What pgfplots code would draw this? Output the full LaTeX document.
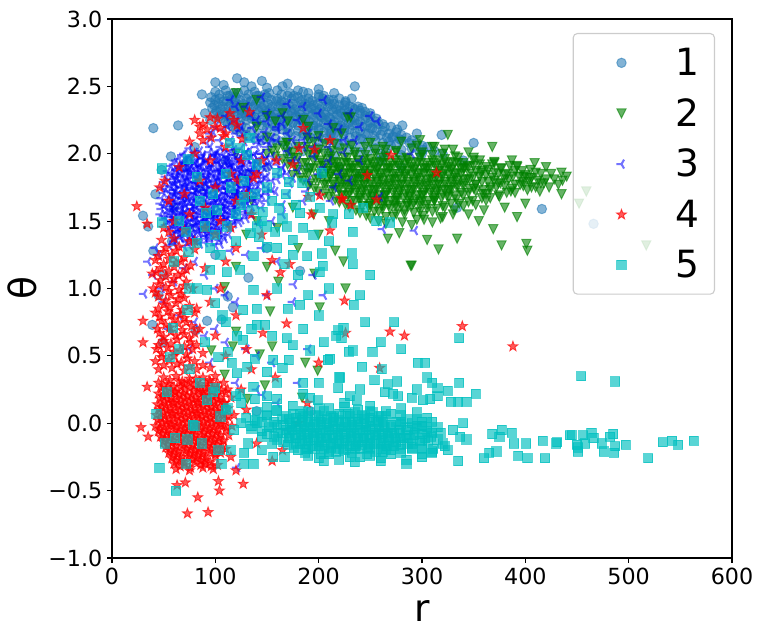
\documentclass[border=0pt]{standalone}
\usepackage{fontspec}
\setmainfont{DejaVu Sans}
\usepackage{pgfplots}
\pgfplotsset{compat=1.18}
\usetikzlibrary{calc}
\definecolor{c1}{HTML}{1F77B4}
\definecolor{c2}{HTML}{008000}
\definecolor{c3}{HTML}{0000FF}
\definecolor{c4}{HTML}{FF0000}
\definecolor{c5}{HTML}{00BFBF}
\pgfdeclareplotmark{fstar}{%
  \pgfpathmoveto{\pgfpointpolar{90}{\pgfplotmarksize}}%
  \pgfpathlineto{\pgfpointpolar{126}{0.4\pgfplotmarksize}}%
  \pgfpathlineto{\pgfpointpolar{162}{\pgfplotmarksize}}%
  \pgfpathlineto{\pgfpointpolar{198}{0.4\pgfplotmarksize}}%
  \pgfpathlineto{\pgfpointpolar{234}{\pgfplotmarksize}}%
  \pgfpathlineto{\pgfpointpolar{270}{0.4\pgfplotmarksize}}%
  \pgfpathlineto{\pgfpointpolar{306}{\pgfplotmarksize}}%
  \pgfpathlineto{\pgfpointpolar{342}{0.4\pgfplotmarksize}}%
  \pgfpathlineto{\pgfpointpolar{18}{\pgfplotmarksize}}%
  \pgfpathlineto{\pgfpointpolar{54}{0.4\pgfplotmarksize}}%
  \pgfpathclose
  \pgfusepathqfillstroke}
\pgfdeclareplotmark{vtri}{%
  \pgfpathmoveto{\pgfqpoint{0pt}{-\pgfplotmarksize}}%
  \pgfpathlineto{\pgfqpoint{-\pgfplotmarksize}{\pgfplotmarksize}}%
  \pgfpathlineto{\pgfqpoint{\pgfplotmarksize}{\pgfplotmarksize}}%
  \pgfpathclose
  \pgfusepathqfillstroke}
\pgfdeclareplotmark{trileft}{%
  \pgfpathmoveto{\pgfpointorigin}\pgfpathlineto{\pgfpointpolar{180}{\pgfplotmarksize}}%
  \pgfpathmoveto{\pgfpointorigin}\pgfpathlineto{\pgfpointpolar{60}{\pgfplotmarksize}}%
  \pgfpathmoveto{\pgfpointorigin}\pgfpathlineto{\pgfpointpolar{-60}{\pgfplotmarksize}}%
  \pgfusepathqstroke}
\begin{document}
\begin{tikzpicture}
\begin{axis}[
  scale only axis, width=446.4pt, height=388.08pt,
  xmin=0, xmax=600, ymin=-1, ymax=3,
  xtick={0,100,200,300,400,500,600},
  xticklabels={0,100,200,300,400,500,600},
  ytick={-1,-0.5,0,0.5,1,1.5,2,2.5,3},
  yticklabels={−1.0,−0.5,0.0,0.5,1.0,1.5,2.0,2.5,3.0},
  tick label style={font=\fontsize{16}{19}\selectfont},
  xlabel={r}, ylabel={θ},
  label style={font=\fontsize{27}{32}\selectfont},
  xlabel style={at={(axis description cs:0.5,-0.1187)}, anchor=base},
  ylabel style={at={(axis description cs:-0.1225,0.5)}, anchor=base, rotate=0},
  tick align=outside, xtick pos=bottom, ytick pos=left,
  major tick length=3.5pt,
  every tick/.style={black, line width=0.8pt},
  axis line style={line width=0.8pt},
  clip=true,
  legend cell align=left,
  legend image code/.code={\path (-10pt,0pt) (34pt,0pt); \draw[sharp corners,#1] plot coordinates {(22pt,0pt)};},
  legend style={at={(axis description cs:1,1)}, anchor=north east, xshift=-12.24pt, yshift=-10.08pt,
    draw=black!20, line width=0.8pt, rounded corners=3pt, fill=white, fill opacity=0.8, draw opacity=1, text opacity=1,
    font=\fontsize{27}{32}\selectfont, inner xsep=2pt, inner ysep=3pt, column sep=17pt,
    nodes={inner ysep=7.5pt, inner xsep=9pt}},
]
% ---------------- series 1 ----------------
\addplot[only marks, mark=*, color=c1, opacity=0.55, mark size=3.4pt, line width=0.7pt] coordinates {
(108,2.51)(121,2.56)(128,2.53)(135,2.50)(150,2.49)(165,2.50)(180,2.47)(100,2.53)(87,2.44)(235,2.50)(232,2.41)(226,2.38)(233,2.34)(281,2.21)(295,2.15)(319,2.14)(301,2.03)(271,2.12)(416,1.59)(466,1.48)(350,2.08)(200,2.48)(215,2.45)(170,2.52)(145,2.54)
(40,2.19)(64,2.21)(57,1.98)(73,1.95)(48,1.88)(42,1.70)(30,1.54)(35,1.46)(40,1.28)(58,1.35)(39,0.73)(49,0.60)(81,0.69)(92,0.76)(112,0.94)(117,0.86)(132,1.08)(182,1.13)(140,0.09)(192,0.09)(106,0.77)(50,1.1)(45,0.95)(80,2.05)(90,2.3)(95,2.25)
(100,2.46)(110,2.47)(118,2.45)(128,2.47)(138,2.46)(148,2.44)(160,2.47)(172,2.45)(185,2.46)(200,2.44)
(104,2.44)(114,2.43)(122,2.45)(132,2.44)(142,2.43)(152,2.45)(164,2.44)(176,2.43)(190,2.45)(205,2.43)
(96,2.42)(104,2.41)(112,2.43)(120,2.42)(130,2.41)(140,2.43)(150,2.42)(160,2.41)(170,2.43)(180,2.42)(190,2.41)(200,2.42)(210,2.40)(220,2.41)
(100,2.40)(108,2.39)(116,2.41)(124,2.40)(134,2.39)(144,2.41)(154,2.40)(164,2.39)(174,2.41)(184,2.40)(194,2.39)(204,2.41)(214,2.40)(226,2.39)
(95,2.38)(103,2.37)(111,2.39)(119,2.38)(127,2.37)(135,2.39)(143,2.38)(151,2.37)(159,2.39)(167,2.38)(175,2.37)(183,2.39)(191,2.38)(199,2.37)(207,2.39)(215,2.37)(225,2.36)(238,2.35)
(99,2.36)(107,2.35)(115,2.37)(123,2.36)(131,2.35)(139,2.37)(147,2.36)(155,2.35)(163,2.37)(171,2.36)(179,2.35)(187,2.37)(195,2.36)(203,2.35)(211,2.37)(220,2.36)(230,2.35)(242,2.34)
(97,2.34)(105,2.33)(113,2.35)(121,2.34)(129,2.33)(137,2.35)(145,2.34)(153,2.33)(161,2.35)(169,2.34)(177,2.33)(185,2.35)(193,2.34)(201,2.33)(209,2.35)(217,2.33)(225,2.32)(235,2.33)(245,2.31)
(101,2.32)(109,2.31)(117,2.33)(125,2.32)(133,2.31)(141,2.33)(149,2.32)(157,2.31)(165,2.33)(173,2.32)(181,2.31)(189,2.33)(197,2.32)(205,2.31)(213,2.33)(221,2.32)(229,2.31)(240,2.32)(250,2.30)
(100,2.30)(110,2.29)(118,2.31)(126,2.30)(134,2.29)(142,2.31)(150,2.30)(158,2.29)(166,2.31)(174,2.30)(182,2.29)(190,2.31)(198,2.30)(206,2.29)(214,2.31)(222,2.30)(230,2.29)(240,2.30)(250,2.28)
(104,2.28)(114,2.27)(122,2.29)(130,2.28)(138,2.27)(146,2.29)(154,2.28)(162,2.27)(170,2.29)(178,2.28)(186,2.27)(194,2.29)(202,2.28)(210,2.27)(218,2.29)(226,2.28)(235,2.27)(245,2.28)(256,2.26)
(105,2.26)(115,2.25)(125,2.27)(135,2.26)(145,2.25)(155,2.27)(163,2.26)(171,2.25)(179,2.27)(187,2.26)(195,2.25)(203,2.27)(211,2.26)(219,2.25)(227,2.27)(235,2.25)(245,2.26)(255,2.24)
(110,2.24)(120,2.23)(130,2.25)(140,2.24)(150,2.23)(159,2.25)(167,2.24)(175,2.23)(183,2.25)(191,2.24)(199,2.23)(207,2.25)(215,2.24)(223,2.23)(231,2.25)(240,2.24)(250,2.23)(262,2.22)
(112,2.22)(125,2.21)(140,2.23)(155,2.22)(165,2.21)(175,2.23)(185,2.22)(195,2.21)(205,2.23)(213,2.22)(221,2.21)(229,2.23)(237,2.22)(247,2.21)(258,2.22)(270,2.20)
(117,2.20)(130,2.19)(145,2.21)(158,2.20)(170,2.19)(180,2.21)(190,2.20)(200,2.19)(209,2.21)(217,2.20)(225,2.19)(233,2.21)(242,2.20)(252,2.19)(264,2.20)(276,2.18)
(120,2.18)(135,2.17)(150,2.19)(165,2.18)(180,2.17)(190,2.19)(200,2.18)(210,2.17)(220,2.19)(230,2.18)(240,2.17)(250,2.19)(262,2.17)(275,2.16)
(125,2.16)(142,2.15)(158,2.17)(172,2.16)(185,2.15)(195,2.17)(205,2.16)(215,2.15)(225,2.17)(235,2.16)(245,2.15)(256,2.17)(268,2.15)(280,2.14)
(130,2.14)(150,2.13)(170,2.15)(185,2.14)(200,2.13)(212,2.15)(224,2.14)(236,2.13)(248,2.15)(260,2.14)(272,2.13)(285,2.12)
(138,2.12)(158,2.11)(178,2.13)(192,2.12)(206,2.11)(218,2.13)(230,2.12)(242,2.11)(254,2.13)(266,2.12)(278,2.11)(290,2.10)
(145,2.10)(165,2.09)(190,2.11)(210,2.10)(225,2.09)(240,2.11)(255,2.10)(268,2.09)(280,2.10)(295,2.08)
(155,2.08)(178,2.07)(200,2.09)(218,2.08)(232,2.07)(248,2.09)(262,2.08)(275,2.07)(288,2.08)(300,2.06)
(170,2.05)(200,2.04)(220,2.06)(240,2.05)(255,2.04)(270,2.06)(290,2.04)(305,2.05)
(185,2.02)(210,2.01)(230,2.03)(248,2.02)(265,2.01)(280,2.03)(298,2.01)(312,2.02)
(195,2.00)(215,1.99)(240,2.01)(260,2.00)(280,1.99)(300,2.00)
(70,1.9)(85,1.75)(110,1.95)(130,1.85)(150,1.9)(170,2.0)(190,1.9)(220,1.9)(240,1.85)(260,1.95)(280,1.9)(320,2.0)(340,1.95)(334,1.6)(60,1.6)(75,1.45)(95,1.55)(120,1.7)(100,1.25)(150,1.3)(212,2.17)
};
\addlegendentry{1}
% ---------------- series 2 ----------------
\addplot[only marks, mark=vtri, color=c2, opacity=0.6, mark size=3.3pt, line width=0.7pt] coordinates {
(170,2.08)(195,2.09)(215,2.07)(250,2.08)(280,2.09)
(165,2.06)(188,2.05)(206,2.07)(232,2.06)(262,2.05)(295,2.06)
(160,2.04)(180,2.05)(200,2.03)(225,2.04)(245,2.05)(265,2.03)(290,2.04)(310,2.05)
(155,2.02)(175,2.01)(192,2.03)(212,2.02)(235,2.01)(255,2.03)(275,2.02)(300,2.01)(322,2.03)
(150,2.00)(170,2.01)(190,1.99)(205,2.00)(220,2.01)(235,1.99)(255,2.00)(275,2.01)(300,1.99)(320,2.00)(345,2.01)
(158,1.98)(176,1.97)(198,1.99)(212,1.98)(228,1.97)(245,1.99)(265,1.98)(285,1.97)(310,1.99)(332,1.98)(350,1.97)
(165,1.96)(180,1.97)(195,1.95)(210,1.96)(225,1.97)(238,1.95)(250,1.96)(262,1.97)(274,1.95)(286,1.96)(298,1.97)(310,1.95)(322,1.96)(335,1.97)(350,1.95)
(172,1.94)(188,1.93)(202,1.95)(218,1.94)(231,1.93)(244,1.95)(256,1.94)(268,1.93)(280,1.95)(292,1.94)(304,1.93)(316,1.95)(328,1.94)(340,1.93)(356,1.95)(370,1.94)
(170,1.92)(185,1.93)(200,1.91)(212,1.92)(224,1.93)(236,1.91)(248,1.92)(260,1.93)(272,1.91)(284,1.92)(296,1.93)(308,1.91)(320,1.92)(332,1.93)(344,1.91)(356,1.92)(370,1.93)(385,1.91)
(177,1.90)(192,1.89)(206,1.91)(218,1.90)(230,1.89)(242,1.91)(254,1.90)(266,1.89)(278,1.91)(290,1.90)(302,1.89)(314,1.91)(326,1.90)(338,1.89)(350,1.91)(362,1.90)(377,1.89)(392,1.91)
(180,1.88)(195,1.89)(208,1.87)(220,1.88)(232,1.89)(244,1.87)(256,1.88)(268,1.89)(280,1.87)(292,1.88)(304,1.89)(316,1.87)(328,1.88)(340,1.89)(352,1.87)(364,1.88)(376,1.89)(390,1.87)(405,1.88)
(187,1.86)(201,1.85)(214,1.87)(226,1.86)(238,1.85)(250,1.87)(262,1.86)(274,1.85)(286,1.87)(298,1.86)(310,1.85)(322,1.87)(334,1.86)(346,1.85)(358,1.87)(370,1.86)(383,1.85)(397,1.87)(410,1.86)
(175,1.84)(190,1.85)(205,1.83)(218,1.84)(230,1.85)(242,1.83)(254,1.84)(266,1.85)(278,1.83)(290,1.84)(302,1.85)(314,1.83)(326,1.84)(338,1.85)(350,1.83)(362,1.84)(374,1.85)(388,1.83)(400,1.84)(415,1.85)
(182,1.82)(197,1.81)(211,1.83)(224,1.82)(236,1.81)(248,1.83)(260,1.82)(272,1.81)(284,1.83)(296,1.82)(308,1.81)(320,1.83)(332,1.82)(344,1.81)(356,1.83)(368,1.82)(380,1.81)(394,1.83)(406,1.82)(420,1.81)
(185,1.80)(200,1.81)(214,1.79)(226,1.80)(238,1.81)(250,1.79)(262,1.80)(274,1.81)(286,1.79)(298,1.80)(310,1.81)(322,1.79)(334,1.80)(346,1.81)(358,1.79)(370,1.80)(384,1.81)(398,1.79)(412,1.80)(428,1.81)
(192,1.78)(207,1.77)(220,1.79)(232,1.78)(244,1.77)(256,1.79)(268,1.78)(280,1.77)(292,1.79)(304,1.78)(316,1.77)(328,1.79)(340,1.78)(352,1.77)(364,1.79)(376,1.78)(390,1.77)(404,1.79)(418,1.78)(432,1.77)
(190,1.76)(205,1.77)(220,1.75)(232,1.76)(244,1.77)(256,1.75)(268,1.76)(280,1.77)(292,1.75)(304,1.76)(316,1.77)(328,1.75)(340,1.76)(352,1.77)(366,1.75)(380,1.76)(395,1.77)(410,1.75)
(196,1.74)(212,1.73)(226,1.75)(238,1.74)(250,1.73)(262,1.75)(274,1.74)(286,1.73)(298,1.75)(310,1.74)(322,1.73)(334,1.75)(346,1.74)(359,1.73)(372,1.75)(387,1.74)(402,1.73)
(200,1.72)(215,1.73)(230,1.71)(242,1.72)(254,1.73)(266,1.71)(278,1.72)(290,1.73)(302,1.71)(314,1.72)(326,1.73)(338,1.71)(352,1.72)(366,1.73)(382,1.71)
(206,1.70)(222,1.69)(236,1.71)(248,1.70)(260,1.69)(272,1.71)(284,1.70)(296,1.69)(308,1.71)(320,1.70)(332,1.69)(345,1.71)(359,1.70)(374,1.69)(390,1.71)
(210,1.68)(225,1.69)(240,1.67)(252,1.68)(264,1.69)(276,1.67)(288,1.68)(300,1.69)(312,1.67)(326,1.68)(340,1.69)(358,1.67)(375,1.68)
(216,1.66)(232,1.65)(246,1.67)(258,1.66)(270,1.65)(282,1.67)(294,1.66)(306,1.65)(319,1.67)(333,1.66)(349,1.65)(366,1.67)
(220,1.64)(235,1.65)(250,1.63)(262,1.64)(274,1.65)(286,1.63)(298,1.64)(312,1.65)(328,1.63)(345,1.64)(362,1.65)
(226,1.62)(242,1.61)(256,1.63)(268,1.62)(280,1.61)(292,1.63)(305,1.62)(320,1.61)(336,1.63)(352,1.62)
(230,1.60)(248,1.61)(262,1.59)(276,1.60)(290,1.61)(305,1.59)(322,1.60)(340,1.61)
(236,1.58)(254,1.57)(269,1.59)(283,1.58)(298,1.57)(314,1.59)(331,1.58)
(240,1.56)(258,1.57)(275,1.55)(292,1.56)(310,1.57)(330,1.55)
(246,1.54)(265,1.53)(283,1.55)(301,1.54)(320,1.53)
(250,1.52)(272,1.53)(295,1.51)(318,1.52)
(258,1.50)(281,1.49)(302,1.51)
(265,1.48)(290,1.47)(310,1.49)
(203,1.93)(215,1.93)(227,1.93)(239,1.93)(251,1.93)(263,1.93)(275,1.93)(287,1.93)(299,1.93)(311,1.93)(323,1.93)(335,1.93)
(209,1.89)(221,1.89)(233,1.89)(245,1.89)(257,1.89)(269,1.89)(281,1.89)(293,1.89)(305,1.89)(317,1.89)(329,1.89)(341,1.89)
(212,1.85)(224,1.85)(236,1.85)(248,1.85)(260,1.85)(272,1.85)(284,1.85)(296,1.85)(308,1.85)(320,1.85)(332,1.85)
(208,1.81)(220,1.81)(232,1.81)(244,1.81)(256,1.81)(268,1.81)(280,1.81)(292,1.81)(304,1.81)(316,1.81)(328,1.81)(340,1.81)
(214,1.77)(226,1.77)(238,1.77)(250,1.77)(262,1.77)(274,1.77)(286,1.77)(298,1.77)(310,1.77)(322,1.77)(334,1.77)
(220,1.73)(232,1.73)(244,1.73)(256,1.73)(268,1.73)(280,1.73)(292,1.73)(304,1.73)(316,1.73)(328,1.73)
(228,1.69)(240,1.69)(252,1.69)(264,1.69)(276,1.69)(288,1.69)(300,1.69)(312,1.69)(324,1.69)
(240,1.65)(252,1.65)(264,1.65)(276,1.65)(288,1.65)(300,1.65)(312,1.65)
(250,1.61)(262,1.61)(274,1.61)(286,1.61)(298,1.61)
(345,1.90)(357,1.86)(368,1.92)(380,1.84)(392,1.90)(404,1.82)(415,1.78)(425,1.85)(350,1.74)(362,1.70)(374,1.78)(386,1.72)(398,1.76)(420,1.90)(440,1.83)
(231,2.27)(325,2.14)(312,2.05)(330,2.03)(368,2.05)(387,1.95)(409,1.93)(435,1.86)(436,1.80)(435,1.70)(423,1.75)(414,1.72)(398,1.83)(406,1.75)(392,1.53)(377,1.32)(401,1.33)(402,1.28)(369,1.44)(334,1.37)(316,1.29)(305,1.36)(290,1.17)(278,1.41)(267,1.37)(224,1.20)(216,1.28)(298,2.10)(459,1.72)(452,1.63)(517,1.32)(400,1.63)
(109,1.01)(120,0.68)(117,0.57)(96,0.54)(143,0.51)(155,0.57)(187,0.45)(199,0.39)(153,0.83)(161,1.05)(201,0.86)(226,1.00)(196,1.11)(150,1.16)(120,1.16)(148,0.28)(131,0.18)(184,0.19)(109,0.36)(289,1.17)
(130,1.4)(140,1.5)(160,1.45)(180,1.3)(200,1.4)(210,1.5)(140,2.4)(165,2.3)(190,2.2)(150,2.12)(120,2.0)(135,1.65)(175,1.6)(195,1.55)(355,1.5)(345,1.55)(380,1.6)(360,1.58)
(120,2.45)(127,2.34)(158,2.24)(170,2.24)(185,2.25)(189,2.12)(200,2.13)(214,2.19)(222,2.15)(228,2.27)(169,2.08)(140,2.2)(150,2.28)
};
\addlegendentry{2}
% ---------------- series 3 ----------------
\addplot[only marks, mark=trileft, color=c3, opacity=0.55, mark size=3.7pt, line width=1.5pt] coordinates {
(75,2.04)(95,2.05)(110,2.03)(125,2.04)(140,2.05)
(85,2.02)(102,2.01)(118,2.03)(133,2.02)
(80,2.01)(100,2.00)(115,2.02)(130,2.01)(145,2.00)
(70,2.00)(82,1.99)(94,2.01)(106,2.00)(118,1.99)(130,2.01)(145,2.00)
(76,1.98)(88,1.97)(100,1.99)(112,1.98)(124,1.97)(138,1.99)
(75,1.97)(87,1.96)(99,1.98)(111,1.97)(123,1.96)(135,1.98)(150,1.97)
(65,1.96)(76,1.95)(87,1.97)(98,1.96)(109,1.95)(120,1.97)(132,1.96)(148,1.95)
(70,1.94)(81,1.93)(92,1.95)(103,1.94)(114,1.93)(126,1.95)(140,1.94)
(70,1.93)(81,1.92)(92,1.94)(103,1.93)(114,1.92)(125,1.94)(137,1.93)(153,1.92)
(60,1.92)(70,1.91)(80,1.93)(90,1.92)(100,1.91)(110,1.93)(120,1.92)(130,1.91)(142,1.93)(160,1.92)
(65,1.90)(75,1.89)(85,1.91)(95,1.90)(105,1.89)(115,1.91)(125,1.90)(136,1.89)(150,1.91)
(65,1.89)(75,1.88)(85,1.90)(95,1.89)(105,1.88)(115,1.90)(125,1.89)(135,1.88)(147,1.90)(165,1.89)
(62,1.88)(72,1.87)(82,1.89)(92,1.88)(102,1.87)(112,1.89)(122,1.88)(134,1.87)
(57,1.86)(67,1.85)(77,1.87)(87,1.86)(97,1.85)(107,1.87)(117,1.86)(128,1.85)(142,1.87)
(62,1.85)(72,1.84)(82,1.86)(92,1.85)(102,1.84)(112,1.86)(122,1.85)(132,1.84)(145,1.86)(170,1.85)
(58,1.84)(68,1.83)(78,1.85)(88,1.84)(98,1.83)(108,1.85)(118,1.84)(128,1.83)(140,1.85)(165,1.84)
(63,1.82)(73,1.81)(83,1.83)(93,1.82)(103,1.81)(113,1.83)(123,1.82)(134,1.81)(150,1.83)
(60,1.81)(70,1.80)(80,1.82)(90,1.81)(100,1.80)(110,1.82)(120,1.81)(130,1.80)(142,1.82)(160,1.81)
(55,1.80)(65,1.79)(75,1.81)(85,1.80)(95,1.79)(105,1.81)(115,1.80)(125,1.79)(137,1.81)(155,1.80)
(60,1.78)(70,1.77)(80,1.79)(90,1.78)(100,1.77)(110,1.79)(120,1.78)(131,1.77)(145,1.79)
(62,1.77)(72,1.76)(82,1.78)(92,1.77)(102,1.76)(112,1.78)(122,1.77)(132,1.76)(145,1.78)
(57,1.76)(67,1.75)(77,1.77)(87,1.76)(97,1.75)(107,1.77)(117,1.76)(127,1.75)(140,1.77)
(52,1.74)(62,1.73)(72,1.75)(82,1.74)(92,1.73)(102,1.75)(112,1.74)(122,1.73)(133,1.75)
(60,1.73)(70,1.72)(80,1.74)(90,1.73)(100,1.72)(110,1.74)(120,1.73)(130,1.72)(140,1.74)(155,1.73)
(55,1.72)(65,1.71)(75,1.73)(85,1.72)(95,1.71)(105,1.73)(115,1.72)(125,1.71)(135,1.73)(150,1.72)
(60,1.70)(70,1.69)(80,1.71)(90,1.70)(100,1.69)(110,1.71)(120,1.70)(130,1.69)(142,1.71)
(63,1.69)(73,1.68)(83,1.70)(93,1.69)(103,1.68)(113,1.70)(123,1.69)(135,1.68)(150,1.70)
(58,1.68)(68,1.67)(78,1.69)(88,1.68)(98,1.67)(108,1.69)(118,1.68)(130,1.67)(145,1.69)
(53,1.66)(63,1.65)(73,1.67)(83,1.66)(93,1.65)(103,1.67)(113,1.66)(124,1.65)(137,1.67)
(60,1.65)(70,1.64)(80,1.66)(90,1.65)(100,1.64)(110,1.66)(120,1.65)(130,1.64)(143,1.66)
(55,1.64)(65,1.63)(75,1.65)(85,1.64)(95,1.63)(105,1.65)(115,1.64)(125,1.63)(138,1.65)
(50,1.62)(60,1.61)(70,1.63)(80,1.62)(90,1.61)(100,1.63)(110,1.62)(120,1.61)(131,1.63)
(57,1.61)(67,1.60)(77,1.62)(87,1.61)(97,1.60)(107,1.62)(117,1.61)(127,1.60)(140,1.62)
(52,1.60)(62,1.59)(72,1.61)(82,1.60)(92,1.59)(102,1.61)(112,1.60)(122,1.59)(135,1.61)
(57,1.58)(67,1.57)(77,1.59)(87,1.58)(97,1.57)(107,1.59)(117,1.58)(128,1.57)
(60,1.57)(70,1.56)(80,1.58)(90,1.57)(100,1.56)(110,1.58)(120,1.57)(133,1.56)
(55,1.56)(65,1.55)(75,1.57)(85,1.56)(95,1.55)(105,1.57)(115,1.56)(128,1.55)
(50,1.54)(60,1.53)(70,1.55)(80,1.54)(90,1.53)(100,1.55)(110,1.54)(120,1.53)
(57,1.53)(67,1.52)(77,1.54)(87,1.53)(97,1.52)(107,1.54)(117,1.53)(130,1.52)
(52,1.52)(62,1.51)(72,1.53)(82,1.52)(92,1.51)(102,1.53)(112,1.52)(125,1.51)
(57,1.50)(67,1.49)(77,1.51)(87,1.50)(97,1.49)(107,1.51)(118,1.50)
(60,1.49)(70,1.48)(80,1.50)(90,1.49)(100,1.48)(110,1.50)(123,1.49)
(55,1.48)(65,1.47)(75,1.49)(85,1.48)(95,1.47)(105,1.49)(118,1.48)
(60,1.46)(70,1.45)(80,1.47)(90,1.46)(100,1.45)(112,1.47)
(63,1.45)(73,1.44)(83,1.46)(93,1.45)(103,1.44)(115,1.46)
(58,1.44)(68,1.43)(78,1.45)(88,1.44)(98,1.43)(110,1.45)
(63,1.42)(73,1.41)(83,1.43)(93,1.42)(104,1.41)
(65,1.41)(77,1.40)(89,1.42)(101,1.41)(113,1.40)
(60,1.40)(72,1.39)(84,1.41)(96,1.40)(108,1.39)
(66,1.38)(78,1.37)(90,1.39)(102,1.38)
(67,1.37)(81,1.36)(95,1.38)(109,1.37)
(62,1.36)(76,1.35)(90,1.37)(104,1.36)
(60,1.33)(75,1.32)(90,1.34)(105,1.33)
(55,1.32)(70,1.31)(85,1.33)(100,1.32)
(68,1.99)(78,1.99)(88,1.99)(98,1.99)(108,1.99)(118,1.99)(128,1.99)(138,1.99)
(62,1.95)(72,1.95)(82,1.95)(92,1.95)(102,1.95)(112,1.95)(122,1.95)(132,1.95)(142,1.95)
(57,1.91)(67,1.91)(77,1.91)(87,1.91)(97,1.91)(107,1.91)(117,1.91)(127,1.91)(137,1.91)
(54,1.87)(64,1.87)(74,1.87)(84,1.87)(94,1.87)(104,1.87)(114,1.87)(124,1.87)(136,1.87)
(52,1.83)(62,1.83)(72,1.83)(82,1.83)(92,1.83)(102,1.83)(112,1.83)(122,1.83)(134,1.83)
(50,1.79)(60,1.79)(70,1.79)(80,1.79)(90,1.79)(100,1.79)(110,1.79)(120,1.79)(132,1.79)
(48,1.75)(58,1.75)(68,1.75)(78,1.75)(88,1.75)(98,1.75)(108,1.75)(118,1.75)(130,1.75)
(50,1.71)(60,1.71)(70,1.71)(80,1.71)(90,1.71)(100,1.71)(110,1.71)(120,1.71)(130,1.71)
(48,1.67)(58,1.67)(68,1.67)(78,1.67)(88,1.67)(98,1.67)(108,1.67)(118,1.67)(128,1.67)
(47,1.63)(57,1.63)(67,1.63)(77,1.63)(87,1.63)(97,1.63)(107,1.63)(117,1.63)(127,1.63)
(48,1.59)(58,1.59)(68,1.59)(78,1.59)(88,1.59)(98,1.59)(108,1.59)(118,1.59)
(47,1.55)(57,1.55)(67,1.55)(77,1.55)(87,1.55)(97,1.55)(107,1.55)(117,1.55)
(50,1.51)(60,1.51)(70,1.51)(80,1.51)(90,1.51)(100,1.51)(110,1.51)
(52,1.47)(62,1.47)(72,1.47)(82,1.47)(92,1.47)(102,1.47)(112,1.47)
(55,1.43)(65,1.43)(75,1.43)(85,1.43)(95,1.43)(105,1.43)
(58,1.39)(68,1.39)(80,1.39)(92,1.39)
(60,1.35)(72,1.35)(84,1.35)(96,1.35)
(135,1.55)(142,1.48)(150,1.65)(158,1.72)(165,1.62)(172,1.78)(180,1.88)(188,1.72)(195,1.98)(160,1.95)(170,2.02)(148,1.82)(138,1.72)(155,1.50)(200,1.85)(210,1.95)(185,2.05)(175,1.95)(165,1.90)(145,2.10)
(92,2.08)(104,2.10)(116,2.07)(128,2.09)(140,2.12)(152,2.08)(98,2.16)(112,2.20)(124,2.17)(136,2.19)(148,2.16)(160,2.18)(120,2.24)(135,2.28)(150,2.24)(165,2.22)
(115,2.10)(128,2.13)(142,2.08)(160,2.10)(170,2.15)(185,2.10)(200,2.12)(210,2.05)(220,2.18)(108,2.18)(95,2.15)
(100,2.20)(110,2.28)(120,2.15)(130,2.35)(140,2.25)(150,2.30)(160,2.20)(170,2.37)(180,2.25)(190,2.15)(200,2.30)(210,2.22)(135,2.10)(155,2.12)(175,2.10)(195,2.05)(225,2.10)(240,2.20)(250,2.28)(150,2.05)(165,2.28)(115,2.40)(145,2.42)(95,2.12)(105,2.05)(257,2.24)(290,2.00)(259,1.68)(262,1.44)(293,1.43)(235,2.10)(224,2.01)(215,1.75)(220,1.85)(230,1.80)(240,1.95)(212,1.65)(140,1.90)(150,1.75)(160,1.85)(170,1.70)(180,1.95)(190,1.80)(200,1.70)(205,1.90)(145,1.60)(165,1.55)(185,1.65)(155,1.98)(175,1.82)(125,2.2)(185,2.35)(205,2.4)(120,2.35)(230,2.3)
(45,1.25)(40,1.10)(48,1.00)(31,0.96)(50,0.90)(60,1.05)(70,1.15)(80,1.20)(90,1.10)(100,1.00)(110,0.95)(120,0.90)(65,0.80)(80,0.75)(90,0.65)(100,0.70)(110,0.60)(130,0.55)(140,0.50)(155,0.45)(75,0.55)(95,0.45)(120,0.30)(140,0.25)(160,0.15)(170,-0.05)(180,0.30)(195,1.10)(205,0.95)(175,0.90)(150,0.95)(160,1.20)(130,1.25)(145,1.30)(115,1.28)(190,0.55)(121,-0.33)(146,0.21)(176,1.03)(35,1.2)(42,1.3)(55,0.7)
};
\addlegendentry{3}
% ---------------- series 4 ----------------
\addplot[only marks, mark=fstar, color=c4, opacity=0.65, mark size=3.8pt, line width=0.6pt] coordinates {
(50,0.34)(62,0.35)(75,0.33)(88,0.34)(100,0.35)
(56,0.32)(68,0.31)(81,0.33)(94,0.32)
(45,0.30)(55,0.29)(65,0.31)(75,0.30)(85,0.29)(95,0.31)(108,0.30)
(50,0.28)(60,0.27)(70,0.29)(80,0.28)(90,0.27)(101,0.29)
(48,0.26)(57,0.25)(66,0.27)(75,0.26)(84,0.25)(93,0.27)(102,0.26)(112,0.25)
(52,0.24)(61,0.23)(70,0.25)(79,0.24)(88,0.23)(97,0.25)(106,0.24)
(45,0.22)(53,0.21)(61,0.23)(69,0.22)(77,0.21)(85,0.23)(93,0.22)(101,0.21)(110,0.23)
(49,0.20)(57,0.19)(65,0.21)(73,0.20)(81,0.19)(89,0.21)(97,0.20)(105,0.19)
(47,0.18)(55,0.17)(63,0.19)(71,0.18)(79,0.17)(87,0.19)(95,0.18)(103,0.17)(115,0.19)
(51,0.16)(59,0.15)(67,0.17)(75,0.16)(83,0.15)(91,0.17)(99,0.16)(109,0.15)
(44,0.14)(52,0.13)(60,0.15)(68,0.14)(76,0.13)(84,0.15)(92,0.14)(100,0.13)(108,0.15)
(48,0.12)(56,0.11)(64,0.13)(72,0.12)(80,0.11)(88,0.13)(96,0.12)(104,0.11)
(46,0.10)(54,0.09)(62,0.11)(70,0.10)(78,0.09)(86,0.11)(94,0.10)(102,0.09)(112,0.11)
(50,0.08)(58,0.07)(66,0.09)(74,0.08)(82,0.07)(90,0.09)(98,0.08)(107,0.07)
(43,0.06)(51,0.05)(59,0.07)(67,0.06)(75,0.05)(83,0.07)(91,0.06)(99,0.05)(107,0.07)(118,0.06)
(47,0.04)(55,0.03)(63,0.05)(71,0.04)(79,0.03)(87,0.05)(95,0.04)(103,0.03)(112,0.05)
(45,0.02)(53,0.01)(61,0.03)(69,0.02)(77,0.01)(85,0.03)(93,0.02)(101,0.01)(110,0.03)
(49,0.00)(57,-0.01)(65,0.01)(73,0.00)(81,-0.01)(89,0.01)(97,0.00)(105,-0.01)
(42,-0.02)(50,-0.03)(58,-0.01)(66,-0.02)(74,-0.03)(82,-0.01)(90,-0.02)(98,-0.03)(106,-0.01)(116,-0.02)
(46,-0.04)(54,-0.05)(62,-0.03)(70,-0.04)(78,-0.05)(86,-0.03)(94,-0.04)(102,-0.05)(111,-0.03)
(45,-0.06)(53,-0.07)(61,-0.05)(69,-0.06)(77,-0.07)(85,-0.05)(93,-0.06)(101,-0.07)(110,-0.05)
(49,-0.08)(57,-0.09)(65,-0.07)(73,-0.08)(81,-0.09)(89,-0.07)(97,-0.08)(105,-0.09)
(47,-0.10)(55,-0.11)(63,-0.09)(71,-0.10)(79,-0.11)(87,-0.09)(95,-0.10)(103,-0.11)(113,-0.09)
(51,-0.12)(59,-0.13)(67,-0.11)(75,-0.12)(83,-0.13)(91,-0.11)(99,-0.12)(108,-0.13)
(50,-0.14)(58,-0.15)(66,-0.13)(74,-0.14)(82,-0.15)(90,-0.13)(98,-0.14)(106,-0.15)
(54,-0.16)(62,-0.17)(70,-0.15)(78,-0.16)(86,-0.17)(94,-0.15)(102,-0.16)
(52,-0.18)(60,-0.19)(68,-0.17)(76,-0.18)(84,-0.19)(92,-0.17)(100,-0.18)(110,-0.19)
(56,-0.20)(64,-0.21)(72,-0.19)(80,-0.20)(88,-0.21)(96,-0.19)(106,-0.20)
(55,-0.22)(63,-0.23)(71,-0.21)(79,-0.22)(87,-0.23)(95,-0.21)(105,-0.22)
(59,-0.24)(67,-0.25)(75,-0.23)(83,-0.24)(91,-0.25)(100,-0.23)
(58,-0.26)(66,-0.27)(74,-0.25)(82,-0.26)(90,-0.27)(100,-0.25)
(62,-0.28)(70,-0.29)(78,-0.27)(86,-0.28)(95,-0.29)
(60,-0.30)(70,-0.31)(80,-0.29)(90,-0.30)(102,-0.31)
(66,-0.32)(76,-0.33)(86,-0.31)(96,-0.32)
(62,-0.34)(75,-0.35)(88,-0.33)(98,-0.34)
(45,0.40)(58,0.41)(70,0.39)(82,0.40)(95,0.41)
(50,0.43)(63,0.44)(75,0.42)(88,0.43)
(42,0.46)(55,0.47)(67,0.45)(80,0.46)
(48,0.49)(60,0.50)(73,0.48)
(48,0.52)(60,0.53)(72,0.51)(88,0.52)
(43,0.55)(54,0.56)(66,0.54)(78,0.55)
(45,0.58)(57,0.59)(70,0.57)(82,0.58)
(50,0.61)(63,0.62)(76,0.60)
(50,0.64)(62,0.65)(75,0.63)
(46,0.67)(57,0.68)(70,0.66)(80,0.67)
(44,0.70)(56,0.71)(68,0.69)(85,0.70)
(52,0.73)(64,0.74)(77,0.72)
(48,0.76)(60,0.77)(72,0.75)
(46,0.79)(57,0.80)(70,0.78)
(42,0.82)(54,0.83)(66,0.81)(80,0.82)
(45,0.85)(56,0.86)(68,0.84)(82,0.85)
(50,0.88)(62,0.89)(75,0.87)
(52,0.91)(64,0.92)
(45,0.94)(57,0.95)(70,0.93)
(42,0.97)(55,0.98)(67,0.96)
(40,1.00)(52,1.01)(65,0.99)(78,1.00)
(45,1.03)(58,1.04)(70,1.02)
(47,1.06)(60,1.07)(72,1.05)
(52,1.09)(64,1.10)
(43,1.12)(55,1.13)(68,1.11)
(47,1.15)(60,1.16)(72,1.14)
(50,1.18)(62,1.19)(76,1.17)
(42,1.21)(55,1.22)(67,1.20)
(45,1.24)(58,1.25)(70,1.23)
(50,1.27)(62,1.28)
(52,1.30)(65,1.31)(80,1.29)
(48,1.36)(60,1.37)(75,1.35)
(55,1.42)(70,1.43)
(60,1.5)(75,1.55)(90,1.6)(105,1.5)(120,1.65)(70,1.7)(85,1.8)(100,1.75)(115,1.85)(130,1.7)(65,1.9)(80,2.0)(95,1.95)(110,2.05)(125,1.95)(140,1.85)(55,1.65)(50,1.45)(100,1.4)(115,1.45)(135,1.55)(145,1.4)(90,1.45)(80,1.35)(120,1.3)(88,2.1)(100,2.2)(108,2.13)(118,2.25)(95,2.27)(85,2.2)
(88,2.22)(96,2.12)(102,2.26)(110,2.15)(126,2.11)
(73,-0.67)(93,-0.66)(83,-0.55)(63,-0.46)(71,-0.44)(103,-0.43)(104,-0.50)(127,-0.45)(30,0.76)(30,0.60)(34,0.27)(28,-0.03)(35,-0.10)(39,1.11)(169,0.74)(146,0.67)(158,0.34)(189,0.15)(155,-0.28)(225,0.91)(226,0.67)(269,0.68)(283,0.65)(339,0.72)(388,0.57)(259,0.41)(270,1.99)(314,1.86)(247,1.84)(223,1.66)(231,1.62)(256,1.66)(211,2.10)(24,1.61)(34,1.48)(46,1.75)(51,1.80)(80,2.25)(75,2.09)(85,2.15)(92,2.18)(114,2.30)(133,2.31)(105,2.19)(121,2.21)(159,1.95)(185,2.19)(181,2.04)(196,2.03)(145,1.95)(175,1.92)(137,1.82)(121,1.80)(190,1.68)(201,1.69)(222,1.67)(193,1.55)(211,1.43)(172,1.18)(155,1.21)(163,1.12)
(120,-0.35)(115,-0.25)(125,0.25)(130,0.1)(140,-0.15)(135,0.4)(110,0.5)(100,0.65)(95,0.9)(105,1.0)(90,1.15)(110,1.2)(120,0.8)(130,0.55)(180,0.0)(165,-0.2)(200,0.45)(150,0.95)
};
\addlegendentry{4}
% ---------------- series 5 ----------------
\addplot[only marks, mark=square*, color=c5, opacity=0.65, mark size=3.3pt, line width=0.7pt] coordinates {
(150,0.12)(175,0.13)(200,0.11)(225,0.12)(250,0.13)(280,0.11)
(160,0.10)(185,0.09)(210,0.11)(238,0.10)(265,0.09)
(140,0.08)(160,0.09)(175,0.07)(190,0.08)(205,0.09)(220,0.07)(235,0.08)(250,0.09)(270,0.07)(295,0.08)
(150,0.06)(168,0.05)(182,0.07)(197,0.06)(212,0.05)(228,0.07)(242,0.06)(258,0.05)(280,0.06)
(185,0.05)(200,0.05)(215,0.05)(230,0.05)(245,0.05)(260,0.05)
(130,0.04)(150,0.05)(165,0.03)(178,0.04)(190,0.05)(202,0.03)(214,0.04)(226,0.05)(238,0.03)(250,0.04)(265,0.05)(285,0.03)(305,0.04)
(138,0.02)(157,0.01)(171,0.03)(184,0.02)(196,0.01)(208,0.03)(220,0.02)(232,0.01)(244,0.03)(257,0.02)(275,0.01)(295,0.03)
(178,0.01)(190,0.01)(202,0.01)(214,0.01)(226,0.01)(238,0.01)(250,0.01)(262,0.01)(280,0.01)(300,0.01)
(125,0.00)(145,0.01)(160,-0.01)(172,0.00)(184,0.01)(196,-0.01)(208,0.00)(220,0.01)(232,-0.01)(244,0.00)(256,0.01)(270,-0.01)(290,0.00)(310,0.01)
(135,-0.02)(152,-0.03)(166,-0.01)(178,-0.02)(190,-0.03)(202,-0.01)(214,-0.02)(226,-0.03)(238,-0.01)(250,-0.02)(263,-0.03)(280,-0.01)(300,-0.02)
(174,-0.03)(186,-0.03)(198,-0.03)(210,-0.03)(222,-0.03)(234,-0.03)(246,-0.03)(258,-0.03)(270,-0.03)(285,-0.03)(305,-0.03)
(135,-0.04)(155,-0.03)(168,-0.05)(180,-0.04)(192,-0.03)(204,-0.05)(216,-0.04)(228,-0.03)(240,-0.05)(252,-0.04)(264,-0.03)(278,-0.05)(295,-0.04)(315,-0.03)
(145,-0.06)(161,-0.07)(174,-0.05)(186,-0.06)(198,-0.07)(210,-0.05)(222,-0.06)(234,-0.07)(246,-0.05)(258,-0.06)(271,-0.07)(286,-0.05)(305,-0.06)
(171,-0.07)(183,-0.07)(195,-0.07)(207,-0.07)(219,-0.07)(231,-0.07)(243,-0.07)(255,-0.07)(267,-0.07)(279,-0.07)(293,-0.07)(310,-0.07)
(150,-0.08)(165,-0.07)(177,-0.09)(189,-0.08)(201,-0.07)(213,-0.09)(225,-0.08)(237,-0.07)(249,-0.09)(261,-0.08)(273,-0.07)(285,-0.09)(300,-0.08)(318,-0.07)
(157,-0.10)(171,-0.11)(183,-0.09)(195,-0.10)(207,-0.11)(219,-0.09)(231,-0.10)(243,-0.11)(255,-0.09)(267,-0.10)(279,-0.11)(292,-0.09)(309,-0.10)
(178,-0.11)(190,-0.11)(202,-0.11)(214,-0.11)(226,-0.11)(238,-0.11)(250,-0.11)(262,-0.11)(274,-0.11)(288,-0.11)(303,-0.11)
(160,-0.12)(172,-0.11)(184,-0.13)(196,-0.12)(208,-0.11)(220,-0.13)(232,-0.12)(244,-0.11)(256,-0.13)(268,-0.12)(282,-0.11)(298,-0.13)(315,-0.12)
(166,-0.14)(178,-0.15)(190,-0.13)(202,-0.14)(214,-0.15)(226,-0.13)(238,-0.14)(250,-0.15)(262,-0.13)(275,-0.14)(290,-0.15)(306,-0.13)
(188,-0.15)(200,-0.15)(212,-0.15)(224,-0.15)(236,-0.15)(248,-0.15)(260,-0.15)(272,-0.15)(286,-0.15)
(170,-0.16)(182,-0.15)(194,-0.17)(206,-0.16)(218,-0.15)(230,-0.17)(242,-0.16)(254,-0.15)(266,-0.17)(280,-0.16)(300,-0.15)(322,-0.17)
(176,-0.18)(188,-0.19)(200,-0.17)(212,-0.18)(224,-0.19)(236,-0.17)(248,-0.18)(260,-0.19)(273,-0.17)(290,-0.18)(311,-0.19)
(190,-0.19)(205,-0.19)(220,-0.19)(235,-0.19)(250,-0.19)(265,-0.19)(280,-0.19)(300,-0.19)
(180,-0.20)(195,-0.19)(210,-0.21)(225,-0.20)(240,-0.19)(255,-0.21)(270,-0.20)(290,-0.19)(310,-0.21)
(187,-0.22)(202,-0.23)(217,-0.21)(232,-0.22)(247,-0.23)(262,-0.21)(280,-0.22)(300,-0.23)
(190,-0.24)(210,-0.23)(230,-0.25)(250,-0.24)(270,-0.23)(300,-0.25)
(200,-0.26)(220,-0.27)(240,-0.25)(260,-0.26)(285,-0.27)
(205,-0.28)(235,-0.29)(260,-0.28)(285,-0.30)
(320,-0.15)(310,-0.22)(295,-0.02)(337,-0.10)(343,-0.12)(368,-0.08)(375,-0.10)(387,-0.07)(389,-0.15)(401,-0.15)(417,-0.13)(431,-0.14)(443,-0.09)(451,-0.18)(372,-0.21)(365,-0.22)(360,-0.26)(393,-0.24)(402,-0.26)(419,-0.26)(377,-0.05)(430,-0.15)(445,-0.09)(456,-0.09)(464,-0.07)(466,-0.11)(450,-0.16)(451,-0.21)(458,-0.15)(474,-0.15)(476,-0.21)(482,-0.10)(485,-0.08)(487,-0.17)(486,-0.22)(497,-0.16)(519,-0.26)(533,-0.14)(542,-0.13)(548,-0.16)(563,-0.13)(454,0.35)(487,0.31)(330,-0.05)(340,0.0)(325,-0.2)(335,-0.28)
(233,1.18)(234,0.88)(273,0.75)(336,0.63)(224,0.71)(217,0.65)(211,0.48)(233,0.54)(252,0.53)(242,0.42)(261,0.40)(254,0.32)(221,0.34)(219,0.26)(296,0.45)(303,0.45)(305,0.34)(310,0.30)(315,0.26)(295,0.25)(290,0.19)(301,0.17)(308,0.18)(315,0.20)(325,0.24)(336,0.30)(335,0.16)(343,0.16)(352,0.22)(328,0.16)(267,0.29)(276,0.31)(272,0.22)(277,0.20)(264,0.23)(237,0.17)(225,0.15)(252,0.08)
(62,-0.50)(46,-0.33)(72,-0.30)(43,0.07)(51,-0.15)(61,-0.11)(73,-0.12)(53,0.23)(78,-0.01)(103,-0.20)(106,-0.30)(87,-0.15)(92,0.17)(100,0.26)(56,0.49)(59,0.71)(73,0.84)(75,1.00)(82,1.00)(92,0.99)(100,0.89)(107,0.80)(127,0.84)(137,0.99)(140,0.85)(121,0.65)(127,0.62)(135,0.70)(140,0.73)(148,0.73)(169,0.63)(175,0.58)(192,0.54)(209,0.47)(171,0.47)(165,0.41)(156,0.47)(138,0.48)(131,0.42)(121,0.37)(116,0.45)(112,0.53)(103,0.49)(167,1.18)(204,1.17)(182,0.88)(219,0.69)(222,0.63)(229,0.53)(220,0.34)(192,0.19)(199,0.17)(137,0.27)(124,0.22)(98,0.23)(112,0.11)(128,-0.22)(137,-0.30)(156,-0.25)(167,-0.25)(80,-0.02)
(110,0.10)(118,-0.05)(125,0.15)(132,-0.15)(140,0.00)(115,-0.20)(128,-0.30)(138,0.18)(145,-0.10)(105,0.05)(120,0.20)(150,0.2)(160,0.18)(145,-0.2)(155,-0.15)
(48,1.89)(74,1.96)(82,1.83)(48,1.49)(72,1.42)(91,1.56)(90,1.46)(102,1.58)(111,1.46)(100,1.40)(82,1.34)(74,1.27)(114,2.08)(124,2.04)(133,2.12)(131,1.99)(150,1.75)(160,1.86)(171,1.79)(184,1.78)(203,1.86)(128,1.68)(136,1.58)(146,1.57)(162,1.60)(182,1.56)(201,1.60)(214,1.55)(140,1.46)(150,1.46)(169,1.46)(175,1.36)(203,1.26)(189,1.24)(201,1.12)(134,1.41)(150,1.31)(137,1.24)(124,1.14)(111,1.12)(95,1.14)(229,1.55)(243,1.60)(269,1.49)(256,1.50)(233,1.42)(213,1.49)(232,1.26)
(125,1.62)(138,1.70)(155,1.65)(168,1.70)(178,1.62)(192,1.68)(145,1.50)(165,1.52)(185,1.45)(120,1.35)(142,1.38)(158,1.42)(195,1.40)(210,1.35)(175,1.25)(128,1.80)(140,1.92)(110,1.85)(98,1.70)
(120,1.55)(160,1.3)(180,1.1)(190,0.95)(160,1.0)(210,1.0)(250,1.1)(240,0.95)(200,0.8)(170,0.85)(155,0.65)(185,0.7)(205,0.6)(245,0.75)(260,0.6)(280,0.55)(185,0.3)(160,0.3)(150,0.38)(200,0.3)(240,0.25)(230,0.2)(185,0.22)(110,0.75)(90,0.6)(75,0.4)(85,0.3)(65,0.55)(95,1.3)(105,1.25)(60,1.2)(115,1.75)(85,1.65)(65,1.5)
};
\addlegendentry{5}
\end{axis}
\pgfresetboundingbox
\path ($(current axis.south west)+(-80.64pt,-58.32pt)$) rectangle ($(current axis.north east)+(22.32pt,13.68pt)$);
\end{tikzpicture}
\end{document}
